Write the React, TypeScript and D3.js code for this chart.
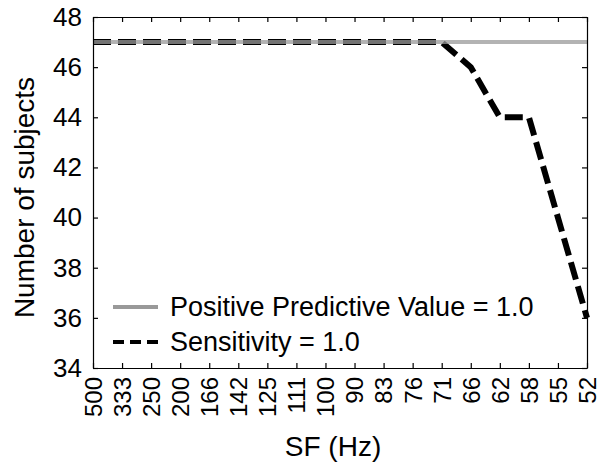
import React, { useEffect, useRef } from "react";
import * as d3 from "d3";

const sfLabels = ["500", "333", "250", "200", "166", "142", "125", "111", "100", "90", "83", "76", "71", "66", "62", "58", "55", "52"];
const ppvValues = [47, 47, 47, 47, 47, 47, 47, 47, 47, 47, 47, 47, 47, 47, 47, 47, 47, 47];
const sensValues = [47, 47, 47, 47, 47, 47, 47, 47, 47, 47, 47, 47, 47, 46, 44, 44, 40, 36];
const yTicks = [34, 36, 38, 40, 42, 44, 46, 48];
const legendLabels = ["Positive Predictive Value = 1.0", "Sensitivity = 1.0"];

const App = () => {
  const ref = useRef<HTMLDivElement>(null);

  useEffect(() => {
    const W = 598;
    const H = 471;
    const margin = { top: 17, right: 11, bottom: 103, left: 93 };
    const width = W - margin.left - margin.right;
    const height = H - margin.top - margin.bottom;
    const font = "'Liberation Sans', Arial, sans-serif";

    d3.select(ref.current).select("svg").remove();

    const root = d3
      .select(ref.current)
      .append("svg")
      .attr("width", W)
      .attr("height", H)
      .style("position", "absolute")
      .style("left", "0px")
      .style("top", "0px")
      .style("background", "#fff");

    const svg = root.append("g").attr("transform", `translate(${margin.left},${margin.top})`);

    const x = d3.scalePoint<string>().domain(sfLabels).range([0, width]);
    const y = d3.scaleLinear().domain([34, 48]).range([height, 0]);

    // lines
    const line = d3
      .line<number>()
      .x((d, i) => x(sfLabels[i]) as number)
      .y((d) => y(d));

    svg
      .append("path")
      .datum(sensValues)
      .attr("d", line)
      .attr("fill", "none")
      .attr("stroke", "#000")
      .attr("stroke-width", 6)
      .attr("stroke-dasharray", "18,7");

    svg
      .append("path")
      .datum(ppvValues)
      .attr("d", line)
      .attr("fill", "none")
      .attr("stroke", "#999")
      .attr("stroke-opacity", 0.75)
      .attr("stroke-width", 4);

    // box + ticks
    const tickLen = 5;
    const axisColor = "#000";
    const bottomAxis = svg
      .append("g")
      .attr("transform", `translate(0,${height})`)
      .call(d3.axisBottom(x).tickSize(-tickLen).tickSizeOuter(0).tickPadding(10));
    bottomAxis
      .selectAll("text")
      .attr("transform", "rotate(-90)")
      .attr("text-anchor", "end")
      .attr("x", -9)
      .attr("y", 0)
      .attr("dy", "0.35em")
      .style("font-size", "24px")
      .style("font-family", font)
      .attr("fill", axisColor);

    svg
      .append("g")
      .call(d3.axisTop(x).tickSize(-tickLen).tickSizeOuter(0).tickFormat(() => ""));

    const leftAxis = svg
      .append("g")
      .call(d3.axisLeft(y).tickValues(yTicks).tickSize(-tickLen).tickSizeOuter(0).tickPadding(11));
    leftAxis
      .selectAll("text")
      .style("font-size", "26px")
      .style("font-family", font)
      .attr("fill", axisColor);

    svg
      .append("g")
      .attr("transform", `translate(${width},0)`)
      .call(d3.axisRight(y).tickValues(yTicks).tickSize(-tickLen).tickSizeOuter(0).tickFormat(() => ""));

    svg.selectAll(".domain").attr("stroke", axisColor).attr("stroke-width", 1.2);
    svg.selectAll(".tick line").attr("stroke", axisColor).attr("stroke-width", 1.2);

    // axis titles
    svg
      .append("text")
      .attr("x", width / 2 - 7)
      .attr("y", height + 88)
      .attr("text-anchor", "middle")
      .style("font-size", "28px")
      .style("font-family", font)
      .text("SF (Hz)");

    svg
      .append("text")
      .attr("transform", `translate(${34 - margin.left},${height / 2 + 5}) rotate(-90)`)
      .attr("text-anchor", "middle")
      .style("font-size", "28px")
      .style("font-family", font)
      .text("Number of subjects");

    // legend
    const legend = svg.append("g").attr("transform", `translate(${113 - margin.left},${307 - margin.top})`);
    legend
      .append("line")
      .attr("x1", 0)
      .attr("x2", 45)
      .attr("stroke", "#999")
      .attr("stroke-width", 4);
    legend
      .append("line")
      .attr("x1", 0)
      .attr("x2", 45)
      .attr("y1", 35)
      .attr("y2", 35)
      .attr("stroke", "#000")
      .attr("stroke-width", 4)
      .attr("stroke-dasharray", "11,6");
    legend
      .selectAll("text.lg")
      .data(legendLabels)
      .enter()
      .append("text")
      .attr("class", "lg")
      .attr("x", 57)
      .attr("y", (d, i) => i * 35)
      .attr("dy", "0.35em")
      .style("font-size", "27px")
      .style("font-family", font)
      .text((d) => d);
  }, []);

  return <div ref={ref}></div>;
};

export default App;
